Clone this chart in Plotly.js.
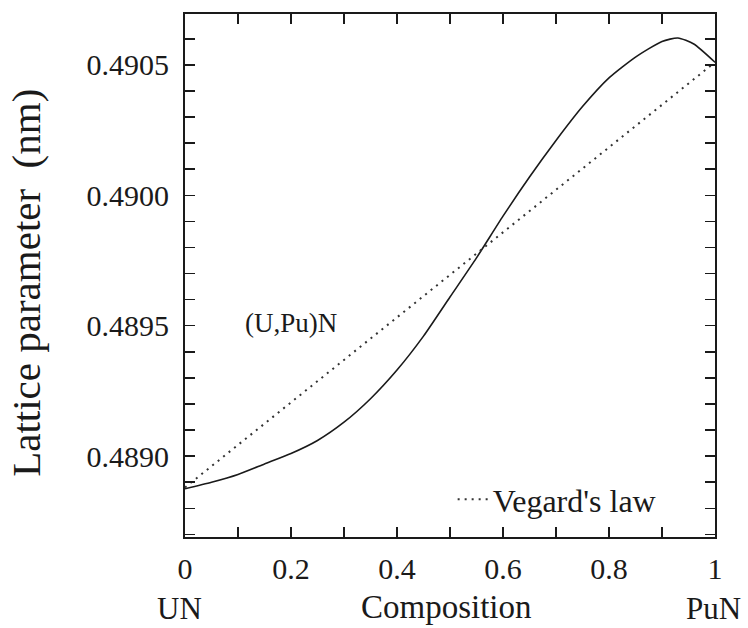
<!DOCTYPE html>
<html>
<head>
<meta charset="utf-8">
<script src="https://cdn.plot.ly/plotly-3.0.1.min.js"></script>
<style>html,body{margin:0;padding:0;background:#fff;}</style>
</head>
<body>
<div id="chart" style="width:748px;height:628px;"></div>
<script>
// Composition (Pu fraction) and lattice parameter (nm) of (U,Pu)N
const compX = [0.00, 0.05, 0.10, 0.15, 0.20, 0.25, 0.30, 0.35, 0.40, 0.45, 0.50, 0.55, 0.60, 0.65, 0.70, 0.75, 0.80, 0.85, 0.90, 0.93, 0.96, 1.00];
const latticeY = [0.488875, 0.48890, 0.48893, 0.48897, 0.48901, 0.48906, 0.48913, 0.48922, 0.48933, 0.48946, 0.48961, 0.48976, 0.48992, 0.49007, 0.49021, 0.49034, 0.49045, 0.49053, 0.49059, 0.490603, 0.49058, 0.49051];
// Vegard's law (linear between end members)
const vegardX = [0, 1];
const vegardY = [0.48888, 0.49051];

const xTickVals = [0, 0.1, 0.2, 0.3, 0.4, 0.5, 0.6, 0.7, 0.8, 0.9, 1.0];
const xTickText = ['0', '', '0.2', '', '0.4', '', '0.6', '', '0.8', '', '1'];
const yTickVals = [0.4887, 0.4888, 0.4889, 0.4890, 0.4891, 0.4892, 0.4893, 0.4894, 0.4895, 0.4896, 0.4897, 0.4898, 0.4899, 0.4900, 0.4901, 0.4902, 0.4903, 0.4904, 0.4905, 0.4906, 0.4907];
const yTickText = ['', '', '', '0.4890', '', '', '', '', '0.4895', '', '', '', '', '0.4900', '', '', '', '', '0.4905', '', ''];

const seriesName = "Vegard's law";
const curveLabel = '(U,Pu)N';
const xTitle = 'Composition';
const yTitle = 'Lattice parameter\u00a0\u00a0(nm)';
const endLabels = ['UN', 'PuN'];

const FONT = '"Liberation Serif", "Times New Roman", serif';
const INK = '#1a1a1a';

const traces = [
  {
    x: compX, y: latticeY, type: 'scatter', mode: 'lines',
    line: {color: INK, width: 1.6, shape: 'spline', smoothing: 0.6},
    showlegend: false, hoverinfo: 'skip'
  },
  {
    x: vegardX, y: vegardY, type: 'scatter', mode: 'lines',
    name: seriesName,
    line: {color: '#333', width: 2, dash: '2px,5px'},
    showlegend: true, hoverinfo: 'skip'
  }
];

const layout = {
  width: 748, height: 628,
  margin: {l: 185, r: 33, t: 14, b: 91},
  paper_bgcolor: '#fff', plot_bgcolor: '#fff',
  font: {family: FONT, color: INK, size: 29},
  showlegend: true,
  legend: {
    x: 0.505, y: 0.072, xanchor: 'left', yanchor: 'middle',
    bgcolor: 'rgba(0,0,0,0)', borderwidth: 0,
    font: {family: FONT, size: 32, color: INK},
    itemwidth: 30
  },
  xaxis: {
    range: [0, 1], tickmode: 'array', tickvals: xTickVals, ticktext: xTickText,
    ticks: 'inside', ticklen: 10, tickwidth: 1.5, tickcolor: INK,
    showline: true, linecolor: INK, linewidth: 2, mirror: 'ticks',
    showgrid: false, zeroline: false,
    tickfont: {family: FONT, size: 30, color: INK},
    ticklabelstandoff: 4
  },
  yaxis: {
    range: [0.48869, 0.490695], tickmode: 'array', tickvals: yTickVals, ticktext: yTickText,
    ticks: 'inside', ticklen: 10, tickwidth: 1.5, tickcolor: INK,
    showline: true, linecolor: INK, linewidth: 2, mirror: 'ticks',
    showgrid: false, zeroline: false,
    tickfont: {family: FONT, size: 30, color: INK},
    ticklabelstandoff: 8
  },
  annotations: [
    {text: curveLabel, xref: 'x', yref: 'y', x: 0.2, y: 0.48951, showarrow: false,
     xanchor: 'center', yanchor: 'middle', font: {family: FONT, size: 27, color: INK}},
    {text: xTitle, xref: 'paper', yref: 'paper', x: 0.494, y: -0.133, showarrow: false,
     xanchor: 'center', yanchor: 'middle', font: {family: FONT, size: 33, color: INK}},
    {text: endLabels[0], xref: 'paper', yref: 'paper', x: -0.011, y: -0.136, showarrow: false,
     xanchor: 'center', yanchor: 'middle', font: {family: FONT, size: 31, color: INK}},
    {text: endLabels[1], xref: 'paper', yref: 'paper', x: 0.997, y: -0.136, showarrow: false,
     xanchor: 'center', yanchor: 'middle', font: {family: FONT, size: 31, color: INK}},
    {text: yTitle, xref: 'paper', yref: 'paper', x: -0.30, y: 0.486, showarrow: false,
     textangle: -90, xanchor: 'center', yanchor: 'middle', font: {family: FONT, size: 41, color: INK}}
  ]
};

Plotly.newPlot('chart', traces, layout, {displayModeBar: false, staticPlot: true});
</script>
</body>
</html>
